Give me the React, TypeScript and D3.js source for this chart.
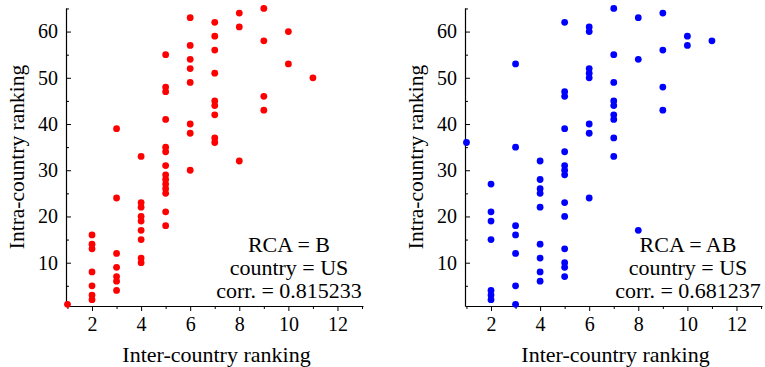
import React, { useEffect, useRef } from "react";
import * as d3 from "d3";

// inter-country ranking (x) values, one column each
const interRanks = [1, 2, 3, 4, 5, 6, 7, 8, 9, 10, 11];

// intra-country ranking values per inter-country rank, RCA = B
const intraB = [
  [1],
  [16, 14, 13, 8, 5, 3, 2],
  [39, 24, 12, 9, 7, 6, 4],
  [33, 23, 22, 20, 19, 17, 15, 11, 10],
  [55, 48, 47, 41, 35, 34, 31, 29, 28, 27, 26, 25, 21, 18],
  [63, 57, 54, 52, 49, 40, 38, 30],
  [62, 59, 56, 51, 45, 44, 42, 37, 36],
  [64, 61, 32],
  [65, 58, 46, 43],
  [60, 53],
  [50],
];

// intra-country ranking values per inter-country rank, RCA = AB
const intraAB = [
  [36],
  [27, 21, 19, 15, 4, 3, 2],
  [53, 35, 18, 16, 12, 5, 1],
  [32, 28, 26, 25, 22, 14, 11, 8, 6],
  [62, 47, 46, 39, 34, 31, 30, 29, 23, 20, 13, 10, 9, 7],
  [61, 60, 52, 51, 50, 40, 38, 24],
  [65, 55, 49, 45, 44, 42, 41, 37, 33],
  [63, 54, 17],
  [64, 56, 48, 43],
  [59, 57],
  [58],
];

const xTicks = [2, 4, 6, 8, 10, 12];
const xMinor = [1, 3, 5, 7, 9, 11, 13];
const yTicks = [10, 20, 30, 40, 50, 60];
const yMinor = [5, 15, 25, 35, 45, 55, 65];

const panels = [
  { left: 66, color: "#ff0000", values: intraB, notes: ["RCA = B", "country = US", "corr. = 0.815233"] },
  { left: 465, color: "#0000ff", values: intraAB, notes: ["RCA = AB", "country = US", "corr. = 0.681237"] },
];

const font = "'Liberation Serif', 'Times New Roman', serif";
const plotW = 297;
const top = 8;
const bottom = 306;

const Panel = ({ left, color, values, notes }) => {
  const gRef = useRef(null);
  const x = d3.scaleLinear().domain([0.94, 13.04]).range([left, left + plotW]);
  const y = d3.scaleLinear().domain([0.63, 65.1]).range([bottom, top]);

  const points = [];
  interRanks.forEach((r, i) => values[i].forEach((v) => points.push({ r, v })));

  useEffect(() => {
    const g = d3.select(gRef.current);
    g.selectAll("*").remove();

    const styleAxis = (sel) => {
      sel.select(".domain").attr("stroke", "#000").attr("stroke-width", 1.2);
      sel.selectAll(".tick line").attr("stroke", "#000");
      sel.selectAll("text").attr("font-family", font).attr("font-size", 20).attr("fill", "#000");
    };

    g.append("g")
      .attr("transform", `translate(0,${bottom})`)
      .call(d3.axisBottom(x).tickValues(xMinor).tickSize(3).tickFormat(() => ""))
      .call((s) => s.select(".domain").remove())
      .call(styleAxis);
    g.append("g")
      .attr("transform", `translate(0,${bottom})`)
      .call(d3.axisBottom(x).tickValues(xTicks).tickSize(5).tickPadding(6).tickSizeOuter(0))
      .call(styleAxis);

    g.append("g")
      .attr("transform", `translate(${left},0)`)
      .call(d3.axisLeft(y).tickValues(yMinor).tickSize(-3).tickFormat(() => ""))
      .call((s) => s.select(".domain").remove())
      .call(styleAxis);
    g.append("g")
      .attr("transform", `translate(${left},0)`)
      .call(d3.axisLeft(y).tickValues(yTicks).tickSize(-5).tickPadding(8).tickSizeOuter(0))
      .call(styleAxis);
  }, [left]);

  const cx = left + plotW / 2;
  const noteX = left + 223;

  return (
    <g>
      <g ref={gRef}></g>
      {points.map((p, i) => (
        <circle key={i} cx={x(p.r)} cy={y(p.v)} r={3.4} fill={color} />
      ))}
      {notes.map((t, i) => (
        <text key={t} x={noteX} y={252 + i * 23} textAnchor="middle" fontSize={22} fontFamily={font}>
          {t}
        </text>
      ))}
      <text x={cx + 2} y={362} textAnchor="middle" fontSize={22} fontFamily={font}>
        Inter-country ranking
      </text>
      <text
        transform={`translate(${left - 42},157) rotate(-90)`}
        textAnchor="middle"
        fontSize={21.5}
        fontFamily={font}
      >
        Intra-country ranking
      </text>
    </g>
  );
};

export default function App() {
  return (
    <svg
      width={765}
      height={367}
      style={{ position: "absolute", left: 0, top: 0, background: "#fff" }}
    >
      {panels.map((p) => (
        <Panel key={p.left} {...p} />
      ))}
    </svg>
  );
}
